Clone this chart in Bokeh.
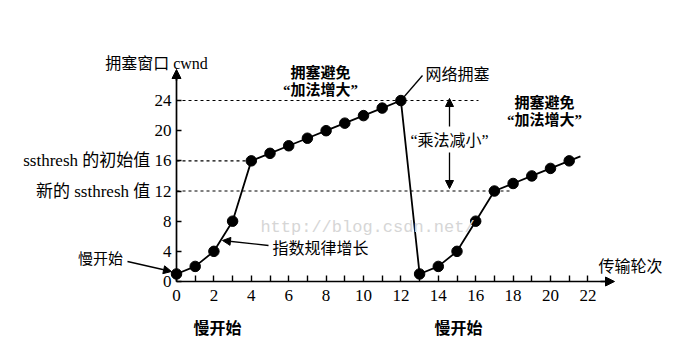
from bokeh.plotting import figure
from bokeh.models import Range1d, LinearAxis, FixedTicker, Label, Arrow, NormalHead
from bokeh.embed import file_html
from bokeh.resources import INLINE

# ---------------- data ----------------
rounds = list(range(0, 22))
cwnd = [1, 2, 4, 8, 16, 17, 18, 19, 20, 21, 22, 23, 24,
        1, 2, 4, 8, 12, 13, 14, 15, 16]
y_ticks = [0, 4, 8, 12, 16, 20, 24]
x_ticks = [0, 2, 4, 6, 8, 10, 12, 14, 16, 18, 20, 22]
x_minor = [1, 3, 5, 7, 9, 11, 13, 15, 17, 19, 21]
ssthresh_init = 16
ssthresh_new = 12
cwnd_peak = 24
y_label_overrides = {16: "ssthresh 的初始值 16", 12: "新的 ssthresh 值 12"}

# ---------------- layout ----------------
W, H = 695, 354
PX0, PY0 = 176, 281       # pixel position of the data origin
SX, SY = 18.7, 7.54       # pixels per data unit
X0, X1 = -PX0 / SX, (W - PX0) / SX
Y0, Y1 = -(H - PY0) / SY, PY0 / SY


def dx(px):
    return (px - PX0) / SX


def dy(py):
    return (PY0 - py) / SY


SERIF = "Liberation Serif, Noto Sans CJK SC"

p = figure(width=W, height=H, output_backend="svg", toolbar_location=None,
           x_range=Range1d(X0, X1), y_range=Range1d(Y0, Y1),
           x_axis_type=None, y_axis_type=None,
           min_border_left=0, min_border_right=0,
           min_border_top=0, min_border_bottom=0)
p.outline_line_color = None
p.background_fill_color = "white"
p.border_fill_color = "white"

# axes
yaxis = LinearAxis(fixed_location=0, bounds=(0, dy(76)),
                   ticker=FixedTicker(ticks=y_ticks),
                   major_label_overrides=y_label_overrides,
                   major_tick_in=5, major_tick_out=0,
                   minor_tick_in=0, minor_tick_out=0,
                   axis_line_width=1.7, axis_line_color="black",
                   major_tick_line_width=1.4,
                   major_label_standoff=5,
                   major_label_text_font=SERIF,
                   major_label_text_font_size="17px",
                   major_label_text_color="black")
p.add_layout(yaxis, "left")

xaxis = LinearAxis(fixed_location=0, bounds=(0, dx(606)),
                   ticker=FixedTicker(ticks=x_ticks, minor_ticks=x_minor),
                   major_tick_in=6, major_tick_out=0,
                   minor_tick_in=6, minor_tick_out=0,
                   axis_line_width=1.7, axis_line_color="black",
                   major_tick_line_width=1.4, minor_tick_line_width=1.4,
                   minor_tick_line_color="black",
                   major_label_standoff=8,
                   major_label_text_font="Liberation Serif",
                   major_label_text_font_size="17px",
                   major_label_text_color="black")
p.add_layout(xaxis, "below")

# axis arrow heads
p.add_layout(Arrow(end=NormalHead(size=9, fill_color="black", line_color="black"),
                   x_start=0, y_start=dy(80), x_end=0, y_end=dy(69),
                   line_color="black", line_width=1.7))
p.add_layout(Arrow(end=NormalHead(size=9, fill_color="black", line_color="black"),
                   x_start=dx(600), y_start=0, x_end=dx(614), y_end=0,
                   line_color="black", line_width=1.7))

# reference dashed lines
dash_levels = [cwnd_peak, ssthresh_init, ssthresh_new]
dash_ends = [dx(478), rounds[cwnd.index(ssthresh_init)], dx(512)]
p.segment(x0=[0, 0, 0], y0=dash_levels, x1=dash_ends, y1=dash_levels,
          line_color="black", line_width=1.1, line_dash="3 3")

# watermark
p.add_layout(Label(x=dx(367), y=dy(227), text="http://blog.csdn.net/",
                   text_font="Liberation Mono", text_font_size="17px",
                   text_color="#d6d6d6", text_align="center",
                   text_baseline="middle"))

# the curve
p.line(rounds, cwnd, line_color="black", line_width=1.8)
tail_x = rounds[-1] + 0.6
tail_y = cwnd[-1] + 0.6 * (cwnd[-1] - cwnd[-2])
p.line([rounds[-1], tail_x], [cwnd[-1], tail_y], line_color="black", line_width=1.8)
p.scatter(rounds, cwnd, size=10.5, fill_color="black", line_color="black")

# leader line for 网络拥塞
peak_i = cwnd.index(cwnd_peak)
p.line([rounds[peak_i], dx(422)], [cwnd[peak_i], dy(75)],
       line_color="black", line_width=1.3)


def label(px, py, text, size="15px", bold=False, align="center", font=SERIF, color="black"):
    p.add_layout(Label(x=dx(px), y=dy(py), text=text, text_font=font,
                       text_font_size=size,
                       text_font_style="bold" if bold else "normal",
                       text_color=color, text_align=align,
                       text_baseline="middle"))


label(156, 63, "拥塞窗口 cwnd", size="16px")
label(320, 72, "拥塞避免", bold=True)
label(320, 89, "“加法增大”", bold=True)
label(425, 74, "网络拥塞", size="16px", align="left")
label(544, 102, "拥塞避免", bold=True)
label(544, 119, "“加法增大”", bold=True)
label(449, 140, "“乘法减小”", size="16px")
label(272, 248, "指数规律增长", size="16px", align="left")
label(100, 258, "慢开始", size="15px")
label(217, 328, "慢开始", size="16px", bold=True)
label(458, 328, "慢开始", size="16px", bold=True)
label(630, 266, "传输轮次", size="16px")


def arrow(px0, py0, px1, py1, size=8):
    p.add_layout(Arrow(end=NormalHead(size=size, fill_color="black", line_color="black"),
                       x_start=dx(px0), y_start=dy(py0), x_end=dx(px1), y_end=dy(py1),
                       line_color="black", line_width=1.3))


arrow(127, 261, 171, 271)
arrow(268, 245, 222, 240)
arrow(449, 126, 449, 98)
arrow(449, 152, 449, 188)

open("out.html", "w").write(file_html(p, INLINE))
